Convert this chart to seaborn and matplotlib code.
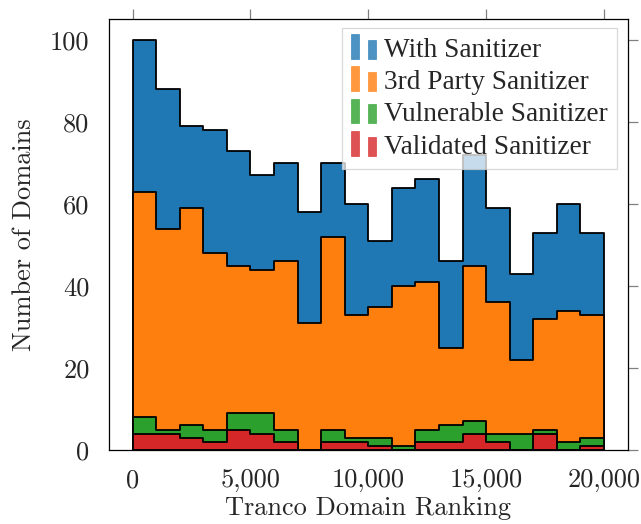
import numpy as np
import pandas as pd
import matplotlib
matplotlib.use("Agg")
import matplotlib.pyplot as plt
import seaborn as sns
from matplotlib.legend_handler import HandlerBase
from matplotlib.patches import Rectangle, Patch
from matplotlib.ticker import FuncFormatter

# ---- data ----
bin_edges = list(range(0, 21000, 1000))
with_sanitizer = [100, 88, 79, 78, 73, 67, 70, 58, 70, 60, 51, 64, 66, 46, 72, 59, 43, 53, 60, 53]
third_party = [63, 54, 59, 48, 45, 44, 46, 31, 52, 33, 35, 40, 41, 25, 45, 36, 22, 32, 34, 33]
vulnerable = [8, 5, 6, 5, 9, 9, 5, 0, 5, 3, 3, 1, 5, 6, 7, 4, 4, 5, 2, 3]
validated = [4, 4, 3, 2, 5, 4, 2, 0, 2, 2, 1, 0, 2, 2, 4, 2, 0, 4, 0, 1]
series_names = ["With Sanitizer", "3rd Party Sanitizer", "Vulnerable Sanitizer", "Validated Sanitizer"]
series_colors = ["#1f77b4", "#ff7f0e", "#2ca02c", "#d62728"]
x_ticks = [0, 5000, 10000, 15000, 20000]
y_ticks = [0, 20, 40, 60, 80, 100]

sns.set_style("white")
plt.rcParams["font.family"] = ["cmr10", "DejaVu Serif"]
plt.rcParams["mathtext.fontset"] = "cm"
plt.rcParams["axes.formatter.use_mathtext"] = True

fig = plt.figure(figsize=(6.41, 5.24), dpi=100)
ax = fig.add_axes([0.170, 0.1412, 0.809, 0.8216])

centers = [e + 500 for e in bin_edges[:-1]]
for name, vals, col in zip(series_names, [with_sanitizer, third_party, vulnerable, validated], series_colors):
    df = pd.DataFrame({"x": centers, "w": vals})
    sns.histplot(data=df, x="x", weights="w", bins=bin_edges, element="step", fill=True,
                 color=col, alpha=1.0, edgecolor="black", linewidth=1.3, ax=ax)

ax.set_xlim(-1000, 21000)
ax.set_ylim(0, 105)
ax.set_xticks(x_ticks)
ax.set_yticks(y_ticks)
ax.xaxis.set_major_formatter(FuncFormatter(lambda v, p: f"{int(v):,}"))
ax.yaxis.set_major_formatter(FuncFormatter(lambda v, p: f"{int(v)}"))
ax.tick_params(axis="both", which="major", direction="out", length=7.5, width=0.9,
               color="#808080", labelsize=19, top=True, right=True,
               labeltop=False, labelright=False)
ax.tick_params(axis="x", pad=6)
ax.tick_params(axis="y", pad=6.5)
for s in ax.spines.values():
    s.set_color("black")
    s.set_linewidth(0.9)
    s.set_visible(True)

ax.set_xlabel("Tranco Domain Ranking", fontsize=19, labelpad=3)
ax.set_ylabel("Number of Domains", fontsize=19, labelpad=10)


class TwoBarHandler(HandlerBase):
    def create_artists(self, legend, orig_handle, xdescent, ydescent, width, height, fontsize, trans):
        col = orig_handle.get_facecolor()
        bw = width * 0.33
        r1 = Rectangle((-xdescent, -ydescent - height * 0.1), bw, height * 1.3,
                       facecolor=col, edgecolor=col, alpha=0.8, lw=0.5, transform=trans)
        r2 = Rectangle((-xdescent + width - bw, -ydescent - height * 0.1), bw, height * 1.0,
                       facecolor=col, edgecolor=col, alpha=0.8, lw=0.5, transform=trans)
        return [r1, r2]


handles = [Patch(facecolor=c) for c in series_colors]
leg = ax.legend(handles, series_names, loc="upper right", bbox_to_anchor=(0.98, 0.98),
                borderaxespad=0, prop={"family": ["Liberation Serif"], "size": 19.6},
                handler_map={Patch: TwoBarHandler()},
                handlelength=0.9, handleheight=0.7, handletextpad=0.3, labelspacing=0.27,
                borderpad=0.35, fancybox=False, frameon=True, framealpha=0.75,
                edgecolor="#cccccc")
leg.get_frame().set_linewidth(0.9)

fig.savefig("out.png", dpi=100)
